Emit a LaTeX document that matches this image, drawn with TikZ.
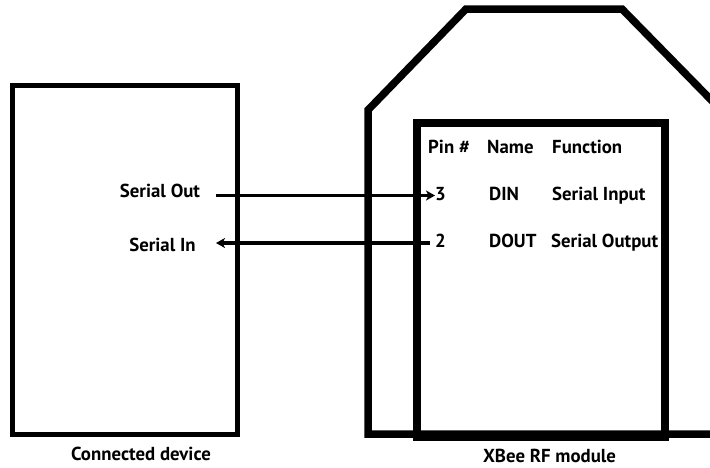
\documentclass[tikz,border=0pt]{standalone}
\usepackage{fontspec}
\setmainfont{PT Sans}
\usetikzlibrary{arrows.meta}
\begin{document}
\begin{tikzpicture}[x=1pt,y=-1pt,
  lbl/.style={font=\bfseries\fontsize{18.8}{22}\selectfont, inner sep=0pt, text=black},
  devbox/.style={draw=black, line width=5pt},
  modbox/.style={draw=black, line width=7.5pt, line join=miter},
  sig/.style={line width=3.5pt, -{Stealth[length=9pt,width=10pt,inset=2.5pt]}}]
\useasboundingbox (0,0) rectangle (710,467);
\fill[white] (0,0) rectangle (710,467);
% connected device
\draw[devbox] (12.5,85) coordinate (devtl) rectangle (237.5,434.5) coordinate (devbr);
% XBee outline (clipped at picture edge)
\begin{scope}
\clip (0,0) rectangle (710,467);
\draw[modbox] (368,434) -- (368,110) -- (466,9) -- (622,9) -- (721,110) -- (721,434) -- cycle;
\end{scope}
\draw[modbox] (417,123) coordinate (pintl) rectangle (665,437) coordinate (pinbr);
% labels
\node[lbl, anchor=base] (sout) at (160,197.5) {Serial Out};
\node[lbl, anchor=base] (sin) at (162.5,251.5) {Serial In};
\node[lbl, anchor=base west] (hpin) at (428,153) {Pin \#};
\node[lbl, anchor=base west] (hname) at (487,153) {Name};
\node[lbl, anchor=base west] (hfun) at (552,153) {Function};
\node[lbl, anchor=base west] (pin3) at (435,200.5) {3};
\node[lbl, anchor=base west] (din) at (489,200.5) {DIN};
\node[lbl, anchor=base west] (fin) at (552,200.5) {Serial Input};
\node[lbl, anchor=base west] (pin2) at (435,247.5) {2};
\node[lbl, anchor=base west] (dout) at (489,247.5) {DOUT};
\node[lbl, anchor=base west] (fout) at (551,247.5) {Serial Output};
\node[lbl, anchor=base] (devlbl) at (141,460.5) {Connected device};
\node[lbl, anchor=base] (modlbl) at (549.5,462) {XBee RF module};
% connectors
\coordinate (a1s) at (216,195.5);
\coordinate (a2s) at (430,243);
\coordinate (a2e) at (216,243);
\draw[sig] (a1s) -- (a1s -| pin3.west);
\draw[sig] (a2s) -- (a2e);
\end{tikzpicture}
\end{document}
